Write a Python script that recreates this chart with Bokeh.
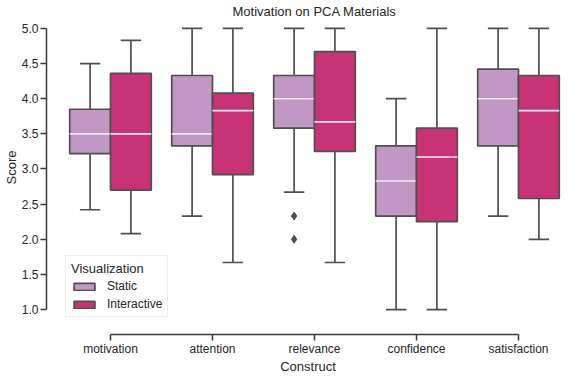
from bokeh.plotting import figure
from bokeh.models import Range1d, FixedTicker, Label, Legend, LegendItem, ColumnDataSource
from bokeh.embed import file_html
from bokeh.resources import INLINE

constructs = ["motivation", "attention", "relevance", "confidence", "satisfaction"]
groups = ["Static", "Interactive"]
colors = {"Static": "#c197c4", "Interactive": "#c73375"}

# per group: lower whisker, q1, median, q3, upper whisker
static_lo = [2.42, 2.33, 2.67, 1.0, 2.33]
static_q1 = [3.22, 3.33, 3.58, 2.33, 3.33]
static_med = [3.5, 3.5, 4.0, 2.83, 4.0]
static_q3 = [3.85, 4.33, 4.33, 3.33, 4.42]
static_hi = [4.5, 5.0, 5.0, 4.0, 5.0]

inter_lo = [2.08, 1.67, 1.67, 1.0, 2.0]
inter_q1 = [2.70, 2.92, 3.25, 2.25, 2.58]
inter_med = [3.5, 3.83, 3.67, 3.17, 3.83]
inter_q3 = [4.36, 4.08, 4.67, 3.58, 4.33]
inter_hi = [4.83, 5.0, 5.0, 5.0, 5.0]

outlier_construct = ["relevance", "relevance"]
outlier_group = ["Static", "Static"]
outlier_vals = [2.33, 2.0]

yticks = [1.0, 1.5, 2.0, 2.5, 3.0, 3.5, 4.0, 4.5, 5.0]

FONT = "Liberation Sans"
EDGE = "#4f4f4f"
TXT = "#262626"

p = figure(width=577, height=376, output_backend="svg", toolbar_location=None,
           x_range=Range1d(-0.6275, 4.5), y_range=Range1d(0.6454, 5.397),
           min_border_left=46, min_border_right=8, min_border_top=0, min_border_bottom=41)
p.title = None
p.outline_line_color = None
p.grid.visible = False
p.background_fill_color = "white"
p.border_fill_color = "white"

data = {
    "Static": (static_lo, static_q1, static_med, static_q3, static_hi),
    "Interactive": (inter_lo, inter_q1, inter_med, inter_q3, inter_hi),
}
offsets = {"Static": -0.2, "Interactive": 0.2}
bw = 0.4
legend_items = []
for g in groups:
    lo, q1, med, q3, hi = data[g]
    xs = [i + offsets[g] for i in range(len(constructs))]
    src = ColumnDataSource(dict(x=xs, lo=lo, q1=q1, med=med, q3=q3, hi=hi,
                                xl=[x - bw / 2 for x in xs], xr=[x + bw / 2 for x in xs],
                                cl=[x - bw / 4 for x in xs], cr=[x + bw / 4 for x in xs]))
    p.segment(x0="x", y0="q3", x1="x", y1="hi", source=src, line_color=EDGE, line_width=1.7)
    p.segment(x0="x", y0="q1", x1="x", y1="lo", source=src, line_color=EDGE, line_width=1.7)
    p.segment(x0="cl", y0="hi", x1="cr", y1="hi", source=src, line_color=EDGE, line_width=1.7)
    p.segment(x0="cl", y0="lo", x1="cr", y1="lo", source=src, line_color=EDGE, line_width=1.7)
    r = p.vbar(x="x", width=bw, top="q3", bottom="q1", source=src,
               fill_color=colors[g], line_color=EDGE, line_width=1.7)
    p.segment(x0="xl", y0="med", x1="xr", y1="med", source=src, line_color="#f0e8f0", line_width=1.6)
    legend_items.append(LegendItem(label=g, renderers=[r]))

ox = [constructs.index(c) + offsets[g] for c, g in zip(outlier_construct, outlier_group)]
p.scatter(x=ox, y=outlier_vals, marker="diamond", size=8, fill_color=EDGE, line_color=EDGE)

# axes
p.xaxis.ticker = FixedTicker(ticks=list(range(len(constructs))))
p.xaxis.major_label_overrides = {i: c for i, c in enumerate(constructs)}
p.xaxis.bounds = (0, len(constructs) - 1)
p.xaxis.axis_label = "Construct"
p.xaxis.major_label_standoff = 1
p.xaxis.axis_label_standoff = 0
p.yaxis.ticker = FixedTicker(ticks=yticks)
p.yaxis.major_label_overrides = {t: f"{t:.1f}" for t in yticks}
p.yaxis.bounds = (1.0, 5.0)
p.yaxis.axis_label = "Score"
p.yaxis.major_label_standoff = 2
p.yaxis.axis_label_standoff = 0
for ax in (p.xaxis, p.yaxis):
    ax.axis_line_color = "#3a3a3a"
    ax.axis_line_width = 1.5
    ax.major_tick_line_color = "#3a3a3a"
    ax.major_tick_line_width = 1.5
    ax.major_tick_out = 6
    ax.major_tick_in = 0
    ax.minor_tick_line_color = None
    ax.major_label_text_font = FONT
    ax.major_label_text_font_size = "12px"
    ax.major_label_text_color = TXT
    ax.axis_label_text_font = FONT
    ax.axis_label_text_font_size = "13px"
    ax.axis_label_text_font_style = "normal"
    ax.axis_label_text_color = TXT

p.add_layout(Label(x=2.0, y=5.241, text="Motivation on PCA Materials", text_font=FONT,
                   text_font_size="13px", text_color=TXT, text_align="center",
                   text_baseline="alphabetic"))

legend = Legend(items=legend_items, location=(19, 17), title="Visualization",
                title_text_font=FONT, title_text_font_size="13px",
                title_text_font_style="normal", title_text_color=TXT,
                label_text_font=FONT, label_text_font_size="12px", label_text_color=TXT,
                glyph_width=26, glyph_height=9, label_height=14, spacing=4, label_standoff=10,
                padding=5, margin=0, border_line_color="#d9d9d9", border_line_width=1,
                background_fill_alpha=0.85, title_standoff=3)
p.add_layout(legend, "center")

open("out.html", "w").write(file_html(p, INLINE))
